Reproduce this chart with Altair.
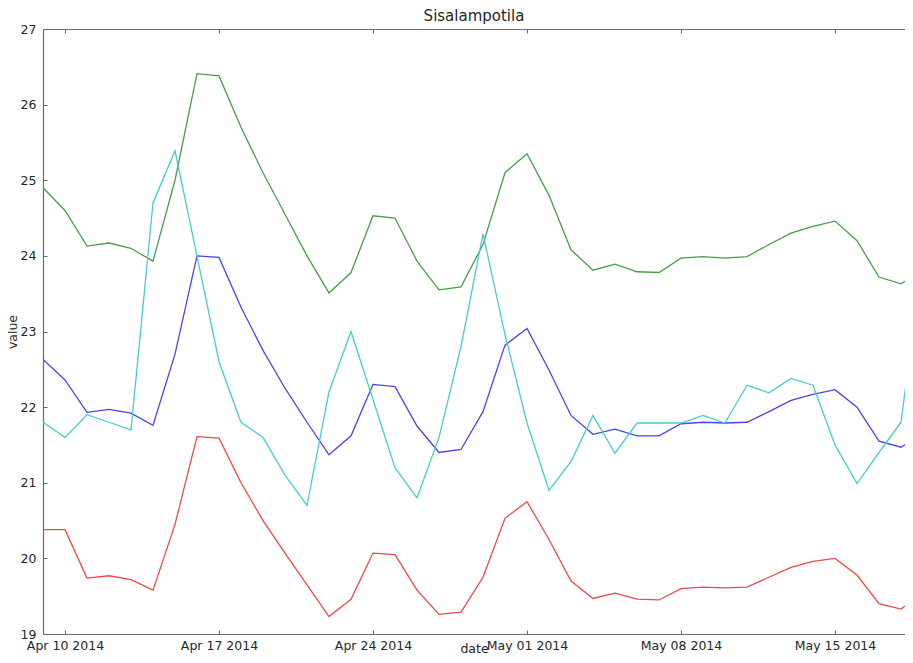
import altair as alt
import pandas as pd

# ---- data ----
dates = pd.date_range("2014-04-09", periods=41, freq="D").strftime("%Y-%m-%d").tolist()

series_names = ["sarja 1", "sarja 2", "sarja 3", "sarja 4"]
series_colors = ["#4646f0", "#4c9c4c", "#f04848", "#48cccc"]

blue = [22.63, 22.36, 21.93, 21.97, 21.92, 21.76, 22.70, 24.00, 23.98, 23.32,
        22.75, 22.25, 21.80, 21.37, 21.62, 22.30, 22.27, 21.75, 21.40, 21.44,
        21.94, 22.82, 23.04, 22.49, 21.89, 21.64, 21.71, 21.62, 21.62, 21.78,
        21.80, 21.79, 21.80, 21.94, 22.09, 22.17, 22.23, 22.00, 21.55, 21.47,
        21.65]
green = [24.90, 24.60, 24.13, 24.17, 24.10, 23.93, 25.00, 26.41, 26.38, 25.70,
         25.10, 24.55, 24.00, 23.51, 23.78, 24.53, 24.50, 23.93, 23.55, 23.59,
         24.15, 25.10, 25.35, 24.80, 24.08, 23.81, 23.89, 23.79, 23.78, 23.97,
         23.99, 23.97, 23.99, 24.15, 24.30, 24.39, 24.46, 24.20, 23.72, 23.63,
         23.82]
red = [20.38, 20.38, 19.74, 19.77, 19.72, 19.58, 20.45, 21.61, 21.59, 21.00,
       20.50, 20.07, 19.65, 19.23, 19.46, 20.07, 20.05, 19.58, 19.26, 19.29,
       19.75, 20.53, 20.75, 20.25, 19.70, 19.47, 19.54, 19.46, 19.45, 19.60,
       19.62, 19.61, 19.62, 19.75, 19.88, 19.96, 20.00, 19.78, 19.40, 19.33,
       19.55]
cyan = [21.80, 21.60, 21.90, 21.80, 21.70, 24.70, 25.39, 24.00, 22.60, 21.80,
        21.60, 21.10, 20.70, 22.20, 23.00, 22.10, 21.20, 20.80, 21.60, 22.80,
        24.29, 22.96, 21.79, 20.90, 21.28, 21.89, 21.39, 21.79, 21.79, 21.79,
        21.89, 21.79, 22.29, 22.19, 22.38, 22.29, 21.50, 20.99, 21.40, 21.80,
        24.04]

y_ticks = [19, 20, 21, 22, 23, 24, 25, 26, 27]
x_tick_days = [(4, 10), (4, 17), (4, 24), (5, 1), (5, 8), (5, 15)]

rows = []
for name, vals in zip(series_names, [blue, green, red, cyan]):
    for d, v in zip(dates, vals):
        rows.append({"date": d, "value": v, "series": name})
df = pd.DataFrame(rows)

W, H = 862, 605
FONT = "DejaVu Sans"
AXIS_GRAY = "#6a6a6a"
TEXT = "#262626"
DATE_FMT = "utcFormat(datum.value, '%b %d %Y')"

x_vals = [alt.DateTime(year=2014, month=m, date=d, utc=True) for m, d in x_tick_days]
x_scale = alt.Scale(
    type="utc",
    domain=[alt.DateTime(year=2014, month=4, date=9, utc=True),
            alt.DateTime(year=2014, month=5, date=18, hours=4, minutes=22, utc=True)],
)
y_scale = alt.Scale(domain=[19, 27], nice=False, zero=False)

base = alt.Chart(df)

# main layer: lines, bottom and left axes with labels
lines = base.mark_line(strokeWidth=1.3, clip=True).encode(
    x=alt.X("date:T", scale=x_scale,
            axis=alt.Axis(orient="bottom", values=x_vals, labelExpr=DATE_FMT,
                          ticks=False, domain=True, labelPadding=5,
                          title="date", titlePadding=-9)),
    y=alt.Y("value:Q", scale=y_scale,
            axis=alt.Axis(orient="left", values=y_ticks, format="d", ticks=False,
                          domain=True, labelPadding=7, title="value",
                          titlePadding=1)),
    color=alt.Color("series:N", scale=alt.Scale(domain=series_names,
                                                range=series_colors),
                    legend=None),
    detail="series:N",
)

# inward ticks on bottom and left
ticks_bl = base.mark_line(opacity=0).encode(
    x=alt.X("date:T", scale=x_scale,
            axis=alt.Axis(orient="top", offset=-H, values=x_vals, labels=False,
                          domain=False, ticks=True, tickSize=4, title=None)),
    y=alt.Y("value:Q", scale=y_scale,
            axis=alt.Axis(orient="right", offset=-W, values=y_ticks, labels=False,
                          domain=False, ticks=True, tickSize=4, title=None)),
    detail="series:N",
)

# top spine with inward ticks
ticks_top = base.mark_line(opacity=0).encode(
    x=alt.X("date:T", scale=x_scale,
            axis=alt.Axis(orient="bottom", offset=-H, values=x_vals, labels=False,
                          domain=True, ticks=True, tickSize=4, title=None)),
    y=alt.Y("value:Q", scale=y_scale, axis=None),
    detail="series:N",
)

chart = (
    alt.layer(lines, ticks_bl, ticks_top)
    .resolve_axis(x="independent", y="independent")
    .properties(
        width=W,
        height=H,
        autosize=alt.AutoSizeParams(type="none"),
        padding={"left": 35, "top": 21, "right": 0, "bottom": 21},
        title=alt.TitleParams("Sisalampotila", fontSize=15, font=FONT,
                              fontWeight="normal", color=TEXT, anchor="middle",
                              offset=4, dy=5),
    )
    .configure_view(stroke=None)
    .configure_axis(
        grid=False,
        domainColor=AXIS_GRAY,
        domainWidth=1.2,
        tickColor=AXIS_GRAY,
        tickWidth=1,
        labelFont=FONT,
        labelFontSize=12.5,
        labelColor=TEXT,
        titleFont=FONT,
        titleFontSize=12.5,
        titleFontWeight="normal",
        titleColor=TEXT,
    )
)

chart.save("out.html", embed_options={"renderer": "svg", "actions": False})
